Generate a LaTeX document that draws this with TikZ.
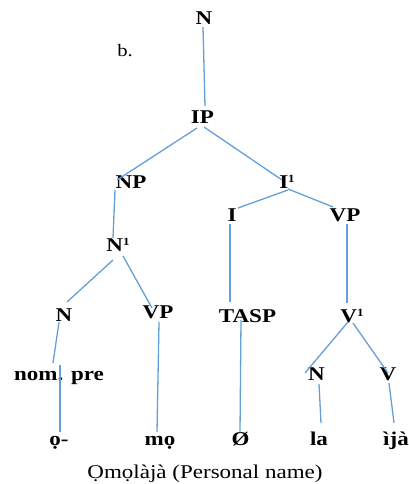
\documentclass[tikz,border=0pt]{standalone}
\usepackage{fontspec}
\setmainfont{Liberation Serif}
\usetikzlibrary{calc}
\newcommand\stretchtxt[1]{\scalebox{1.18}[1]{#1}}
\newcommand\supone{\raisebox{5.5pt}{\fontsize{11}{12}\selectfont 1}}
\definecolor{treeblue}{RGB}{100,160,215}
\begin{document}
\begin{tikzpicture}[x=1pt,y=-1pt,
  lab/.style={anchor=base,inner sep=0pt,font=\fontsize{19.5}{22}\selectfont\bfseries},
  plain/.style={anchor=base,inner sep=0pt,font=\fontsize{19.5}{22}\selectfont},
  edge/.style={draw=treeblue,line width=1.3pt}]
\useasboundingbox (0,0) rectangle (408,484);
% nodes
\node[lab] (nTop) at (204,25) {\stretchtxt{N}};
\node[plain] (blab) at (125,57) {\fontsize{17.5}{20}\selectfont\stretchtxt{b.}};
\node[lab] (IP) at (202.5,124) {\stretchtxt{IP}};
\node[lab] (NP) at (131,188) {\stretchtxt{NP}};
\node[lab] (Ibar) at (287,188) {\stretchtxt{I\supone}};
\node[lab] (I) at (232,221) {\stretchtxt{I}};
\node[lab] (VPa) at (345,221) {\stretchtxt{VP}};
\node[lab] (Nbar) at (118,251) {\stretchtxt{N\supone}};
\node[lab] (Na) at (64,321) {\stretchtxt{N}};
\node[lab] (VPb) at (158,318) {\stretchtxt{VP}};
\node[lab] (TASP) at (247.5,322) {\stretchtxt{TASP}};
\node[lab] (Vbar) at (352,322) {\stretchtxt{V\supone}};
\node[lab] (nompre) at (59,380) {\stretchtxt{nom. pre}};
\node[lab] (Nb) at (316.5,380) {\stretchtxt{N}};
\node[lab] (Vb) at (388,380) {\stretchtxt{V}};
\node[lab] (wo) at (59,445) {\stretchtxt{ọ-}};
\node[lab] (wmo) at (160,445) {\stretchtxt{mọ}};
\node[lab] (wnull) at (240.5,445) {\stretchtxt{Ø}};
\node[lab] (wla) at (319,445) {\stretchtxt{la}};
\node[lab] (wija) at (396,445) {\stretchtxt{ìjà}};
\node[plain] (caption) at (205,478) {\stretchtxt{Ọmọlàjà (Personal name)}};
% connectors
\draw[edge] ($(nTop.base)+(-1,2)$) -- ($(IP.base)+(2.5,-18)$);
\draw[edge] ($(IP.base)+(-5.5,4)$) -- ($(NP.base)+(-14,-8)$);
\draw[edge] ($(IP.base)+(1.5,3)$) -- ($(Ibar.base)+(-5,-8)$);
\draw[edge] ($(NP.base)+(-16,2)$) -- ($(Nbar.base)+(-5,-13)$);
\draw[edge] ($(Ibar.base)+(1,2)$) -- ($(I.base)+(6,-13)$);
\draw[edge] ($(Ibar.base)+(1,1)$) -- ($(VPa.base)+(-12,-14)$);
\draw[edge] ($(I.base)+(-2,3)$) -- ($(TASP.base)+(-17.5,-20)$);
\draw[edge] ($(VPa.base)+(2,3)$) -- ($(Vbar.base)+(-5,-19)$);
\draw[edge] ($(Nbar.base)+(-5,9)$) -- ($(Na.base)+(3,-19)$);
\draw[edge] ($(Nbar.base)+(5,5)$) -- ($(VPb.base)+(-6,-10)$);
\draw[edge] ($(Na.base)+(-5,1)$) -- ($(nompre.base)+(-6,-17)$);
\draw[edge] ($(nompre.base)+(1,-15)$) -- ($(wo.base)+(1,-13)$);
\draw[edge] ($(VPb.base)+(1,4)$) -- ($(wmo.base)+(-3,-13)$);
\draw[edge] ($(TASP.base)+(-6.5,-2)$) -- ($(wnull.base)+(-0.5,-13)$);
\draw[edge] ($(Vbar.base)+(-4,0)$) -- ($(Nb.base)+(-11.5,-7)$);
\draw[edge] ($(Vbar.base)+(1,1)$) -- ($(Vb.base)+(0,-7)$);
\draw[edge] ($(Nb.base)+(2.5,4)$) -- ($(wla.base)+(2,-22)$);
\draw[edge] ($(Vb.base)+(1,3)$) -- ($(wija.base)+(-2,-22)$);
\end{tikzpicture}
\end{document}
